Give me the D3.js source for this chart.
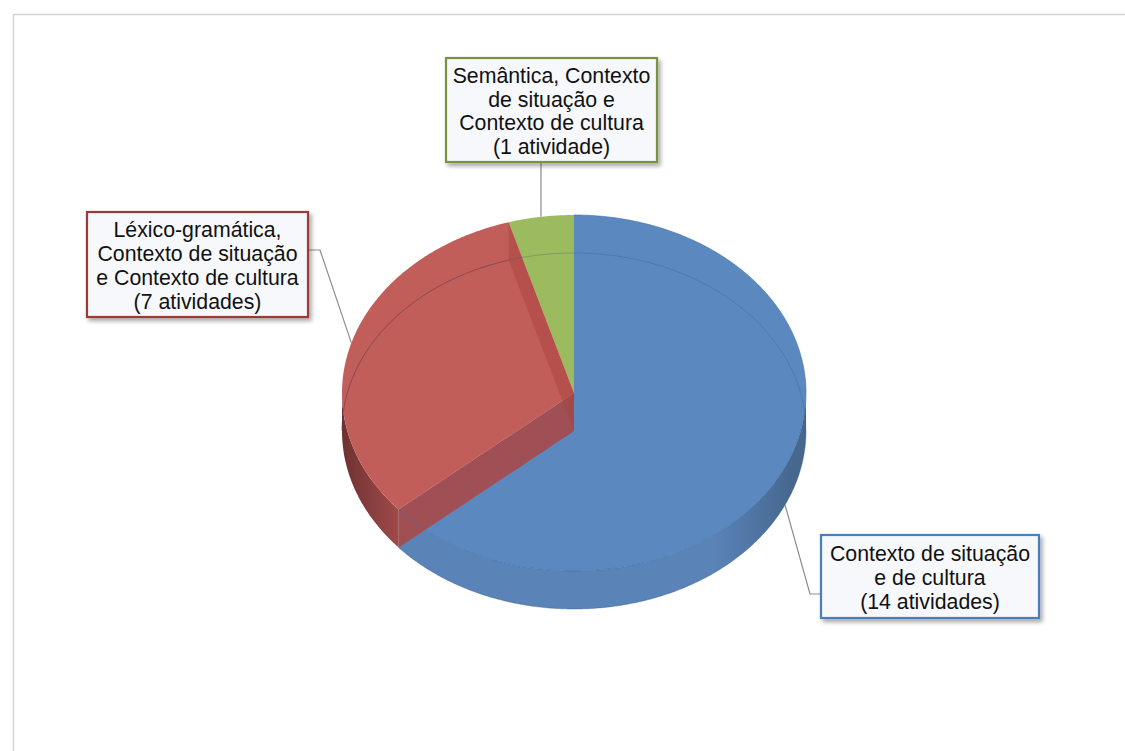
<!DOCTYPE html>
<html>
<head>
<meta charset="utf-8">
<script src="https://cdn.jsdelivr.net/npm/d3@7/dist/d3.min.js"></script>
<style>
  html, body { margin: 0; padding: 0; background: #fff; }
  svg { display: block; }
  text { font-family: "Liberation Sans", Arial, sans-serif; fill: #111; }
</style>
</head>
<body>
<svg id="chart" width="1125" height="751"></svg>
<script>
// Activity counts per analysis category
const categories = [
  "Contexto de situação e de cultura",
  "Léxico-gramática, Contexto de situação e Contexto de cultura",
  "Semântica, Contexto de situação e Contexto de cultura"
];
const values = [14, 7, 1];
const labelLines = [
  ["Contexto de situação", "e de cultura", "(14 atividades)"],
  ["Léxico-gramática,", "Contexto de situação", "e Contexto de cultura", "(7 atividades)"],
  ["Semântica, Contexto", "de situação e", "Contexto de cultura", "(1 atividade)"]
];
const topColors  = ["#5b89bf", "#c15e5a", "#9bbb5e"];
const wallDark   = ["#46688f", "#6e3231", "#6b8440"];
const wallMid    = ["#5a83b8", "#a34c4b", "#8cab52"];
const cutColors  = ["#4d76aa", "#a64b4b", "#85a64d"];
const borderColors = ["#4a7ebb", "#9b3b39", "#77933c"];

const svg = d3.select("#chart");
const W = 1125, H = 751;

// chart frame
svg.append("rect")
  .attr("x", 13.5).attr("y", 14.5)
  .attr("width", W + 20).attr("height", H + 20)
  .attr("fill", "#fff").attr("stroke", "#d4d4d4").attr("stroke-width", 1.5);

// ellipse projection of the tilted pie
const geo = { cx: 574, cy: 393, rx: 232, ry: 178, depth: 38 };
const px = a => geo.cx + geo.rx * Math.sin(a);
const py = (a, z) => geo.cy - geo.ry * Math.cos(a) + (z ? geo.depth : 0);

const pie = d3.pie().sort(null).value(d => d);
const arcs = pie(values);

function edge(a0, a1, z) {
  const n = Math.max(2, Math.ceil(Math.abs(a1 - a0) / 0.01));
  return d3.range(n + 1).map(i => {
    const a = a0 + (a1 - a0) * i / n;
    return [px(a), py(a, z)];
  });
}
const line = d3.line();

const defs = svg.append("defs");
const shadow = defs.append("filter").attr("id", "shadow")
  .attr("x", "-10%").attr("y", "-10%").attr("width", "130%").attr("height", "140%");
shadow.append("feDropShadow").attr("dx", 2.5).attr("dy", 3).attr("stdDeviation", 2.2)
  .attr("flood-color", "#000").attr("flood-opacity", 0.35);

arcs.forEach((d, i) => {
  const g = defs.append("linearGradient").attr("id", "wall" + i)
    .attr("gradientUnits", "userSpaceOnUse")
    .attr("x1", geo.cx - geo.rx).attr("x2", geo.cx + geo.rx).attr("y1", 0).attr("y2", 0);
  g.append("stop").attr("offset", 0).attr("stop-color", wallDark[i]);
  g.append("stop").attr("offset", 0.13).attr("stop-color", wallMid[i]);
  g.append("stop").attr("offset", 0.8).attr("stop-color", wallMid[i]);
  g.append("stop").attr("offset", 0.97).attr("stop-color", wallDark[i]);
  g.append("stop").attr("offset", 1).attr("stop-color", wallDark[i]);
});

const pieG = svg.append("g");

// outer walls on the front half
arcs.forEach((d, i) => {
  const a0 = Math.max(d.startAngle, Math.PI / 2);
  const a1 = Math.min(d.endAngle, 3 * Math.PI / 2);
  if (a1 <= a0) return;
  const pts = edge(a0, a1, false).concat(edge(a1, a0, true));
  pieG.append("path").attr("d", line(pts) + "Z")
    .attr("fill", `url(#wall${i})`);
});

function topPath(d) {
  return line([[geo.cx, geo.cy]].concat(edge(d.startAngle, d.endAngle, false))) + "Z";
}
function cutFace(a) {
  return line([[geo.cx, geo.cy], [px(a), py(a, false)], [px(a), py(a, true)], [geo.cx, geo.cy + geo.depth]]) + "Z";
}

// first and third slice tops
pieG.append("path").attr("d", topPath(arcs[0])).attr("fill", topColors[0]);
pieG.append("path").attr("d", topPath(arcs[2])).attr("fill", topColors[2]);

// cut face of the second slice, seen through the first slice
pieG.append("path").attr("d", cutFace(arcs[1].startAngle))
  .attr("fill", cutColors[1]).attr("opacity", 0.93);

// rim of the first slice top, showing through
pieG.append("path").attr("d", line(edge(arcs[0].startAngle, arcs[0].endAngle, false)))
  .attr("fill", "none").attr("stroke", "#3f6da6").attr("stroke-opacity", 0.6).attr("stroke-width", 1);

// second slice top
pieG.append("path").attr("d", topPath(arcs[1])).attr("fill", topColors[1]);

// inner cut face of the second slice, seen through its own top
pieG.append("path").attr("d", cutFace(arcs[1].endAngle))
  .attr("fill", "#a8413f").attr("opacity", 0.45);

// base ellipse seen through the translucent tops
pieG.append("path").attr("d", line(edge(-Math.PI / 2, Math.PI / 2, true)))
  .attr("fill", "none").attr("stroke", "#2d4f7c").attr("stroke-opacity", 0.28).attr("stroke-width", 1);
pieG.append("path").attr("d", line(edge(3 * Math.PI / 2, arcs[1].endAngle, true)))
  .attr("fill", "none").attr("stroke", "#7a2e2d").attr("stroke-opacity", 0.35).attr("stroke-width", 1);
pieG.append("path").attr("d", line(edge(Math.PI / 2, arcs[0].endAngle, true)))
  .attr("fill", "none").attr("stroke", "#2d4f7c").attr("stroke-opacity", 0.35).attr("stroke-width", 1);

// label boxes and leader lines
const boxes = [
  { x: 821, y: 535, w: 218, h: 83, elbow: [810, 594], end: [821, 594], front: true },
  { x: 87, y: 212, w: 221, h: 105, elbow: [320, 250], end: [308, 250], front: false },
  { x: 446, y: 58, w: 211, h: 104, elbow: null, end: null, front: false }
];
const lineH = 23.8;

arcs.forEach((d, i) => {
  const b = boxes[i];
  const mid = (d.startAngle + d.endAngle) / 2;
  const ax = px(mid), ay = py(mid, b.front);
  let pts;
  if (b.elbow) pts = [[ax, ay], b.elbow, b.end];
  else pts = [[ax, ay], [ax, b.y + b.h]];
  svg.append("path").attr("d", line(pts))
    .attr("fill", "none").attr("stroke", "#8c8c8c").attr("stroke-width", 1.2);
});

arcs.forEach((d, i) => {
  const b = boxes[i];
  const g = svg.append("g");
  g.append("rect").attr("x", b.x).attr("y", b.y).attr("width", b.w).attr("height", b.h)
    .attr("fill", "#f6f8fb").attr("stroke", borderColors[i]).attr("stroke-width", 2.2)
    .attr("filter", "url(#shadow)");
  const lines = labelLines[i];
  const cy = b.y + b.h / 2 + 1.5;
  lines.forEach((t, k) => {
    g.append("text")
      .attr("x", b.x + b.w / 2)
      .attr("y", cy + (k - (lines.length - 1) / 2) * lineH)
      .attr("text-anchor", "middle")
      .attr("dominant-baseline", "central")
      .attr("font-size", 21.3)
      .text(t);
  });
});
</script>
</body>
</html>
